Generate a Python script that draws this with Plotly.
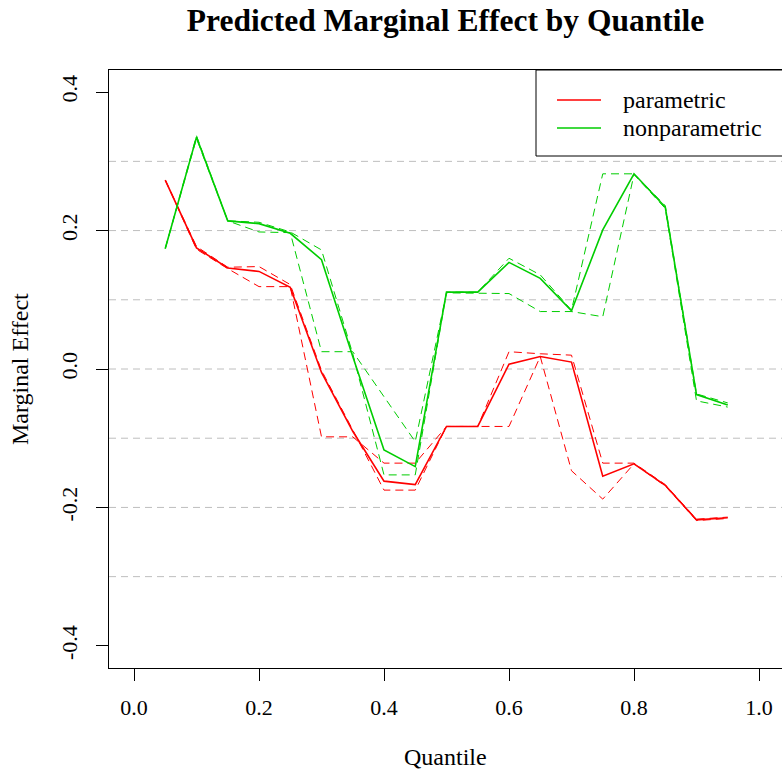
import plotly.graph_objects as go

quantile = [0.05, 0.10, 0.15, 0.20, 0.25, 0.30, 0.35, 0.40, 0.45, 0.50,
            0.55, 0.60, 0.65, 0.70, 0.75, 0.80, 0.85, 0.90, 0.95]

parametric = [0.273, 0.175, 0.146, 0.141, 0.118, -0.005, -0.090, -0.162, -0.167, -0.083,
              -0.083, 0.007, 0.018, 0.010, -0.155, -0.137, -0.168, -0.218, -0.215]
parametric_band_a = [0.273, 0.177, 0.147, 0.148, 0.122, -0.002, -0.088, -0.175, -0.175, -0.083,
                     -0.083, 0.025, 0.022, 0.020, -0.136, -0.136, -0.167, -0.217, -0.214]
parametric_band_b = [0.273, 0.173, 0.145, 0.119, 0.119, -0.098, -0.098, -0.136, -0.136, -0.083,
                     -0.083, -0.083, 0.018, -0.147, -0.188, -0.137, -0.169, -0.219, -0.216]

nonparametric = [0.174, 0.335, 0.214, 0.210, 0.196, 0.158, 0.018, -0.117, -0.141, 0.111,
                 0.111, 0.154, 0.131, 0.084, 0.201, 0.282, 0.234, -0.037, -0.052]
nonparametric_band_a = [0.174, 0.337, 0.214, 0.212, 0.198, 0.172, 0.022, -0.153, -0.153, 0.111,
                        0.111, 0.160, 0.136, 0.085, 0.282, 0.282, 0.236, -0.036, -0.049]
nonparametric_band_b = [0.174, 0.333, 0.214, 0.198, 0.197, 0.025, 0.025, -0.040, -0.105, 0.110,
                        0.110, 0.109, 0.083, 0.083, 0.0755, 0.281, 0.232, -0.046, -0.055]

x_ticks = [0.0, 0.2, 0.4, 0.6, 0.8, 1.0]
x_tick_labels = ["0.0", "0.2", "0.4", "0.6", "0.8", "1.0"]
y_ticks = [-0.4, -0.2, 0.0, 0.2, 0.4]
y_tick_labels = ["-0.4", "-0.2", "0.0", "0.2", "0.4"]
grid_levels = [-0.3, -0.2, -0.1, 0.0, 0.1, 0.2, 0.3]

series_names = ["parametric", "nonparametric"]
RED = "#FF0000"
GREEN = "#00CD00"
FONT = "Liberation Serif"

fig = go.Figure()

def add_group(y_main, y_a, y_b, color, name):
    for yb in (y_a, y_b):
        fig.add_trace(go.Scatter(x=quantile, y=yb, mode="lines",
                                 line=dict(color=color, width=1, dash="8px,5px"),
                                 showlegend=False, hoverinfo="skip"))
    fig.add_trace(go.Scatter(x=quantile, y=y_main, mode="lines", name=name,
                             line=dict(color=color, width=1.6), showlegend=False))

add_group(parametric, parametric_band_a, parametric_band_b, RED, series_names[0])
add_group(nonparametric, nonparametric_band_a, nonparametric_band_b, GREEN, series_names[1])

L, T, B = 109, 70, 103
W, H = 782, 771
pw = W - L
ph = H - T - B

def px(xp):
    return (xp - L) / pw

def py(yp):
    return (H - B - yp) / ph

shapes = []
for g in grid_levels:
    shapes.append(dict(type="line", xref="paper", x0=0, x1=1, yref="y", y0=g, y1=g,
                       line=dict(color="#BEBEBE", width=1, dash="7px,5px"), layer="below"))

# legend box
shapes.append(dict(type="rect", xref="paper", yref="paper", x0=px(536), x1=1.05,
                   y0=py(156), y1=1.0, line=dict(color="black", width=1),
                   fillcolor="white", layer="above"))
shapes.append(dict(type="line", xref="paper", yref="paper", x0=px(557), x1=px(601),
                   y0=py(100), y1=py(100), line=dict(color=RED, width=1.3), layer="above"))
shapes.append(dict(type="line", xref="paper", yref="paper", x0=px(557), x1=px(601),
                   y0=py(128), y1=py(128), line=dict(color=GREEN, width=1.3), layer="above"))

annotations = [
    dict(text=series_names[0], xref="paper", yref="paper", x=px(621), y=py(100),
         xanchor="left", yanchor="middle", showarrow=False,
         font=dict(family=FONT, size=24, color="black")),
    dict(text=series_names[1], xref="paper", yref="paper", x=px(621), y=py(128),
         xanchor="left", yanchor="middle", showarrow=False,
         font=dict(family=FONT, size=24, color="black")),
    dict(text="Quantile", xref="paper", yref="paper", x=0.5, y=py(757),
         xanchor="center", yanchor="middle", showarrow=False,
         font=dict(family=FONT, size=24, color="black")),
    dict(text="Marginal Effect", xref="paper", yref="paper", x=px(20), y=0.5,
         xanchor="center", yanchor="middle", showarrow=False, textangle=-90,
         font=dict(family=FONT, size=24, color="black")),
]

fig.update_layout(
    width=W, height=H,
    margin=dict(l=L, r=0, t=T, b=B),
    paper_bgcolor="white", plot_bgcolor="white",
    font=dict(family=FONT, size=22, color="black"),
    title=dict(text="<b>Predicted Marginal Effect by Quantile</b>",
               x=0.5, xref="paper", xanchor="center",
               y=1 - 20 / H, yref="container", yanchor="middle",
               font=dict(family=FONT, size=31.5, color="black")),
    shapes=shapes,
    annotations=annotations,
    showlegend=False,
)

fig.update_xaxes(range=[-0.04, -0.04 + pw / 625.0], tickvals=x_ticks, ticktext=x_tick_labels,
                 ticks="outside", ticklen=12, tickcolor="black", tickwidth=1,
                 showline=True, linecolor="black", linewidth=1, mirror=True,
                 showgrid=False, zeroline=False, ticklabelstandoff=8,
                 tickfont=dict(family=FONT, size=22, color="black"))
fig.update_yaxes(range=[-0.432, 0.432], tickvals=y_ticks, ticktext=y_tick_labels,
                 ticks="outside", ticklen=12, tickcolor="black", tickwidth=1,
                 showline=True, linecolor="black", linewidth=1, mirror=False,
                 showgrid=False, zeroline=False, tickangle=-90, ticklabelstandoff=10,
                 tickfont=dict(family=FONT, size=22, color="black"))

fig.write_html("out.html")
